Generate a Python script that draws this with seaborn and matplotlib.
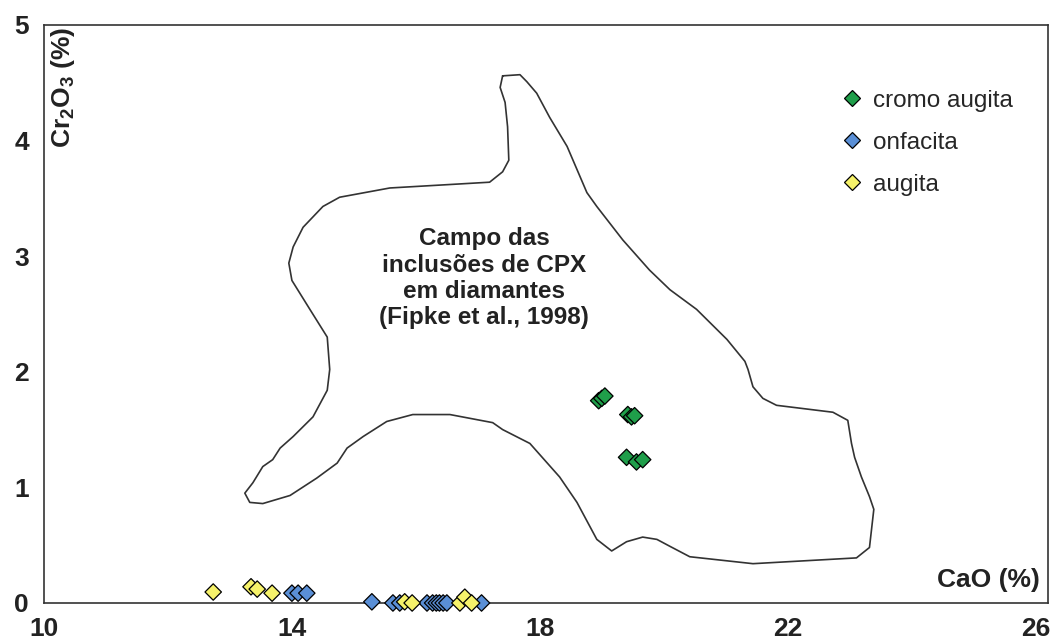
import pandas as pd
import matplotlib.pyplot as plt
import seaborn as sns

# CPX analyses (CaO %, Cr2O3 %)
cromo_cao = [18.95, 19.00, 19.05, 19.42, 19.48, 19.53, 19.40, 19.56, 19.66]
cromo_cr2o3 = [1.75, 1.77, 1.79, 1.63, 1.61, 1.62, 1.26, 1.22, 1.24]

onfacita_cao = [14.00, 14.10, 14.24, 15.29, 15.63, 15.74, 16.18, 16.27,
                16.33, 16.38, 16.44, 16.50, 17.06]
onfacita_cr2o3 = [0.085, 0.085, 0.085, 0.01, 0.0, 0.0, 0.0, 0.0,
                  0.0, 0.0, 0.0, 0.0, 0.0]

augita_cao = [12.73, 13.34, 13.44, 13.68, 15.82, 15.94, 16.71, 16.79, 16.90]
augita_cr2o3 = [0.095, 0.14, 0.12, 0.085, 0.01, 0.0, 0.0, 0.05, 0.0]

# outline of the CPX inclusions field (Fipke et al., 1998)
field_cao = [17.40, 17.68, 17.79, 17.95, 18.16, 18.44, 18.76, 18.92, 19.34, 19.77,
             20.10, 20.53, 21.02, 21.31, 21.36, 21.44, 21.60, 21.82, 22.73, 22.97,
             23.03, 23.08, 23.19, 23.32, 23.39, 23.32, 23.11, 21.44, 20.42, 20.10,
             19.89, 19.66, 19.40, 19.16, 18.92, 18.60, 18.32, 17.84, 17.40, 17.24,
             16.55, 15.95, 15.53, 15.15, 14.89, 14.73, 14.40, 13.97, 13.53, 13.32,
             13.24, 13.37, 13.53, 13.69, 13.81, 14.02, 14.34, 14.57, 14.61, 14.57,
             14.29, 14.00, 13.95, 14.02, 14.18, 14.50, 14.77, 15.58, 16.55, 17.19,
             17.40, 17.50, 17.48, 17.44, 17.36, 17.40]
field_cr2o3 = [4.56, 4.57, 4.51, 4.41, 4.20, 3.95, 3.55, 3.43, 3.14, 2.88,
               2.71, 2.54, 2.28, 2.09, 2.02, 1.87, 1.77, 1.71, 1.65, 1.58,
               1.38, 1.26, 1.09, 0.92, 0.81, 0.48, 0.39, 0.34, 0.40, 0.49,
               0.55, 0.57, 0.53, 0.45, 0.55, 0.87, 1.09, 1.38, 1.50, 1.56,
               1.63, 1.63, 1.57, 1.44, 1.34, 1.21, 1.08, 0.93, 0.86, 0.87,
               0.95, 1.04, 1.18, 1.24, 1.34, 1.44, 1.61, 1.84, 2.02, 2.30,
               2.54, 2.79, 2.94, 3.08, 3.25, 3.43, 3.51, 3.59, 3.62, 3.64,
               3.73, 3.83, 4.12, 4.33, 4.46, 4.56]

series_names = ["cromo augita", "onfacita", "augita"]
series_colors = ["#1f9e4a", "#5a8fd6", "#f6f26a"]
x_ticks = [10, 14, 18, 22, 26]
y_ticks = [0, 1, 2, 3, 4, 5]

df = pd.DataFrame({
    "CaO": cromo_cao + onfacita_cao + augita_cao,
    "Cr2O3": cromo_cr2o3 + onfacita_cr2o3 + augita_cr2o3,
    "tipo": [series_names[0]] * len(cromo_cao)
            + [series_names[1]] * len(onfacita_cao)
            + [series_names[2]] * len(augita_cao),
})

sns.set_style("white")
plt.rcParams["font.family"] = ["Liberation Sans", "DejaVu Sans"]
plt.rcParams["mathtext.fontset"] = "custom"
plt.rcParams["mathtext.rm"] = "Liberation Sans:bold"
plt.rcParams["mathtext.bf"] = "Liberation Sans:bold"

fig = plt.figure(figsize=(10.51, 6.44), dpi=100)
ax = fig.add_axes([0.0419, 0.0637, 0.9552, 0.8975])

ax.plot(field_cao, field_cr2o3, color="#333333", lw=1.2, zorder=1)

sns.scatterplot(data=df, x="CaO", y="Cr2O3", hue="tipo", hue_order=series_names,
                palette=dict(zip(series_names, series_colors)), marker="D", s=70,
                edgecolor="black", linewidth=0.9, clip_on=False, zorder=3, ax=ax)

ax.set_xlim(10, 26.2)
ax.set_ylim(0, 5)
ax.set_xticks(x_ticks)
ax.set_yticks(y_ticks)
ax.tick_params(length=0, labelsize=19)
ax.tick_params(axis="x", pad=10)
ax.tick_params(axis="y", pad=11)
for lab in ax.get_xticklabels() + ax.get_yticklabels():
    lab.set_fontweight("bold")
    lab.set_color("#222222")
for sp in ax.spines.values():
    sp.set_color("#333333")
    sp.set_linewidth(1.2)
ax.set_xlabel("")
ax.set_ylabel("")

ax.text(0.992, 0.04, "CaO (%)", transform=ax.transAxes, ha="right", va="center",
        fontsize=19, fontweight="bold", color="#222222")
ax.text(0.019, 0.997, r"Cr$_{2}$O$_{3}$ (%)", transform=ax.transAxes, rotation=90,
        ha="center", va="top", fontsize=19, fontweight="bold", color="#222222")

ax.text(17.10, 2.81, "Campo das\ninclusões de CPX\nem diamantes\n(Fipke et al., 1998)",
        ha="center", va="center", fontsize=17.5, fontweight="bold", color="#222222",
        linespacing=1.18)

ax.legend(loc="upper left", bbox_to_anchor=(0.793, 0.888), frameon=False, fontsize=17.5,
          handlelength=1.0, handletextpad=0.35, labelspacing=0.82, borderpad=0,
          borderaxespad=0, markerscale=1.0)

fig.savefig("out.png", dpi=100)
